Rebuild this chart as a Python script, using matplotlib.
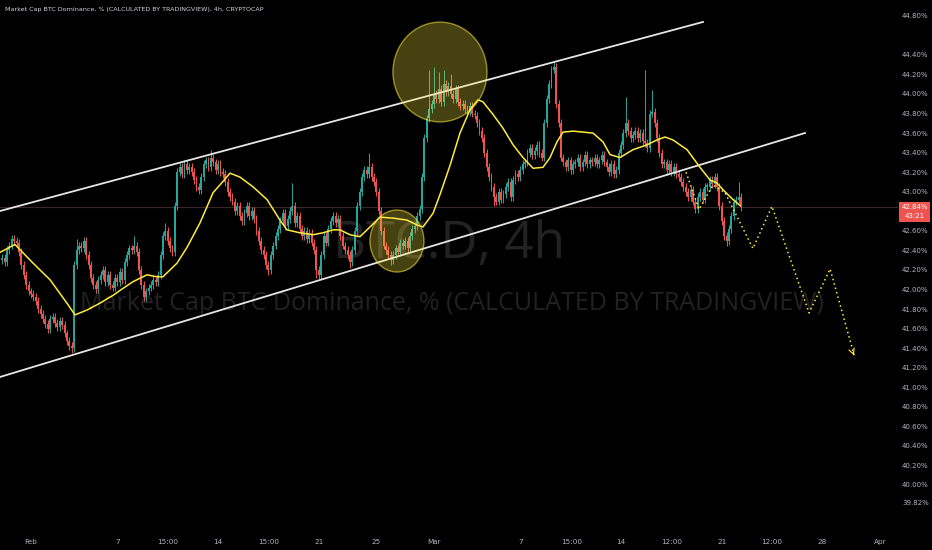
import numpy as np
import matplotlib.pyplot as plt
from matplotlib.patches import Ellipse, Rectangle

# 4h closes, one row per day, first row = Jan 30 (day -2 relative to Feb 1)
closes = [
    42.32, 42.28, 42.40, 42.45, 42.52, 42.50,
    42.48, 42.38, 42.25, 42.15, 42.05, 41.98,
    41.95, 41.92, 41.88, 41.80, 41.75, 41.70,
    41.65, 41.60, 41.70, 41.72, 41.66, 41.62,
    41.68, 41.64, 41.55, 41.47, 41.42, 41.40,
    42.25, 42.40, 42.45, 42.42, 42.50, 42.35,
    42.25, 42.12, 42.05, 42.00, 42.10, 42.15,
    42.20, 42.08, 42.15, 42.05, 42.02, 42.12,
    42.08, 42.18, 42.10, 42.28, 42.35, 42.42,
    42.40, 42.45, 42.38, 42.20, 42.05, 41.92,
    41.98, 42.02, 42.05, 42.10, 42.08, 42.15,
    42.35, 42.55, 42.60, 42.50, 42.42, 42.38,
    42.85, 43.20, 43.25, 43.18, 43.28, 43.22,
    43.25, 43.20, 43.12, 43.05, 43.02, 43.15,
    43.28, 43.32, 43.25, 43.35, 43.30, 43.22,
    43.28, 43.20, 43.18, 43.10, 43.00, 42.95,
    42.90, 42.80, 42.85, 42.75, 42.70, 42.78,
    42.85, 42.75, 42.80, 42.72, 42.60, 42.50,
    42.40, 42.35, 42.25, 42.20, 42.35, 42.45,
    42.55, 42.62, 42.70, 42.78, 42.65, 42.72,
    42.80, 42.85, 42.68, 42.75, 42.62, 42.55,
    42.60, 42.52, 42.58, 42.48, 42.40, 42.20,
    42.15, 42.35, 42.55, 42.48, 42.62, 42.70,
    42.75, 42.68, 42.72, 42.55, 42.45, 42.40,
    42.35, 42.28, 42.40, 42.60, 42.85, 43.00,
    43.15, 43.22, 43.18, 43.25, 43.15, 43.10,
    43.00, 42.80, 42.60, 42.45, 42.40, 42.35,
    42.30, 42.35, 42.42, 42.38, 42.48, 42.45,
    42.50, 42.42, 42.55, 42.62, 42.65, 42.75,
    42.82, 43.15, 43.55, 43.75, 43.85, 43.90,
    44.00, 43.95, 44.05, 43.92, 44.10, 44.02,
    44.08, 44.00, 43.95, 44.05, 43.92, 43.88,
    43.90, 43.85, 43.82, 43.88, 43.80, 43.78,
    43.70, 43.62, 43.55, 43.40, 43.25, 43.15,
    43.05, 42.95, 42.90, 43.00, 42.92, 42.98,
    43.05, 43.10, 42.95, 43.12, 43.18, 43.15,
    43.22, 43.28, 43.30, 43.40, 43.45, 43.38,
    43.42, 43.48, 43.40, 43.35, 43.70, 43.95,
    44.10, 44.25, 44.28, 43.90, 43.70, 43.35,
    43.30, 43.25, 43.32, 43.22, 43.28, 43.30,
    43.35, 43.25, 43.30, 43.38, 43.28, 43.32,
    43.30, 43.35, 43.28, 43.32, 43.38, 43.30,
    43.25, 43.20, 43.28, 43.18, 43.22, 43.40,
    43.48, 43.60, 43.70, 43.62, 43.55, 43.58,
    43.62, 43.55, 43.60, 43.52, 43.50, 43.45,
    43.80, 43.82, 43.70, 43.55, 43.40, 43.28,
    43.30, 43.22, 43.28, 43.20, 43.25, 43.18,
    43.15, 43.10, 43.05, 43.00, 42.95, 43.02,
    42.90, 42.82, 42.95, 43.00, 42.92, 43.05,
    43.05, 43.12, 43.08, 43.15, 43.05, 42.85,
    42.70, 42.55, 42.50, 42.62, 42.75, 42.90,
    42.92, 42.95, 42.84,
]
first_open = 42.30

# notable wicks (candle index -> value)
spike_highs = {31: 42.52, 55: 42.55, 68: 42.68, 87: 43.43, 121: 43.09, 153: 43.40,
               178: 44.25, 180: 44.28, 182: 44.22, 184: 44.25, 187: 44.20, 230: 44.34,
               260: 43.97, 268: 44.25, 271: 44.04, 307: 43.10}
spike_lows = {29: 41.35, 111: 42.15, 131: 42.12, 145: 42.22, 162: 42.25, 205: 42.85,
              289: 42.78, 302: 42.45}
min_wick = 0.04

# yellow moving average, (day, %)
ma_days = [-2.15, -1.25, -1.11, 0.14, 1.32, 2.50, 3.06, 3.89, 4.79, 5.70, 6.18, 7.09,
           8.06, 8.76, 9.17, 10.15, 10.84, 11.74, 12.65, 13.13, 13.83, 14.52, 15.43,
           16.40, 17.30, 17.79, 18.69, 19.60, 20.29, 20.99, 21.47, 22.17, 22.86, 23.56,
           24.25, 25.16, 26.13, 26.82, 27.24, 27.94, 28.42, 29.12, 29.81, 30.51, 31.06,
           31.41, 32.11, 32.80, 33.50, 34.19, 34.89, 35.58, 36.07, 36.55, 36.97, 37.67,
           39.06, 39.75, 40.24, 40.93, 41.83, 42.81, 43.50, 44.06, 44.61, 45.59, 46.49,
           47.19, 47.67, 48.09, 48.78, 49.27]
ma_vals = [42.38, 42.45, 42.46, 42.27, 42.10, 41.86, 41.74, 41.79, 41.86, 41.94, 41.99, 42.08,
           42.15, 42.13, 42.13, 42.27, 42.43, 42.68, 42.99, 43.07, 43.19, 43.15, 43.05,
           42.92, 42.71, 42.61, 42.58, 42.56, 42.58, 42.61, 42.61, 42.56, 42.54, 42.64,
           42.74, 42.73, 42.71, 42.66, 42.64, 42.78, 42.97, 43.27, 43.60, 43.84, 43.94,
           43.92, 43.79, 43.65, 43.48, 43.35, 43.24, 43.25, 43.35, 43.51, 43.61, 43.62,
           43.60, 43.51, 43.38, 43.35, 43.43, 43.48, 43.53, 43.56, 43.53, 43.43, 43.25,
           43.12, 43.09, 43.02, 42.92, 42.86]

# channel lines
upper_days, upper_vals = [-2.154, 46.70], [42.803, 44.737]
lower_days, lower_vals = [-2.154, 53.79], [41.105, 43.601]

# projected path (dotted)
proj_days = [45.52, 46.42, 47.39, 48.23, 50.17, 51.49, 54.07, 55.53, 57.26]
proj_vals = [43.20, 42.82, 43.07, 42.99, 42.42, 42.85, 41.76, 42.21, 41.30]

tick_days = [0, 6, 9.52, 13, 16.54, 20, 24, 28, 34, 37.6, 41, 44.5, 48, 51.5, 55, 59]
tick_labels = ['Feb', '7', '15:00', '14', '15:00', '21', '25', 'Mar', '7', '15:00', '14',
               '12:00', '21', '12:00', '28', 'Apr']
price_ticks = [44.80, 44.40, 44.20, 44.00, 43.80, 43.60, 43.40, 43.20, 43.00, 42.60, 42.40,
               42.20, 42.00, 41.80, 41.60, 41.40, 41.20, 41.00, 40.80, 40.60, 40.40, 40.20,
               40.00, 39.82]
last_price = 42.84

GREEN, RED, YEL = '#26a69a', '#ef5350', '#ffeb3b'
BG = '#000000'
WM = '#222222'

fig = plt.figure(figsize=(9.32, 5.5), dpi=100, facecolor=BG)
ax = fig.add_axes([0, 1 - 528 / 550, 898 / 932, 528 / 550])
ax.set_facecolor(BG)
ax.set_xlim(-2.154, 60.25)
ax.set_ylim(39.560, 44.9616)

# watermark
ax.text(29.05, 42.322, 'BTC.D, 4h', fontsize=37, family='Open Sans', color=WM,
        ha='center', va='baseline', zorder=0)
ax.text(29.22, 41.79, 'Market Cap BTC Dominance, % (CALCULATED BY TRADINGVIEW)',
        fontsize=18, family='Open Sans', color=WM, ha='center', va='baseline', zorder=0)

# candles
c = np.array(closes)
o = np.concatenate([[first_open], c[:-1]])
t = -2 + np.arange(len(c)) / 6.0
hi = np.maximum(o, c) + min_wick
lo = np.minimum(o, c) - min_wick
for k, v in spike_highs.items():
    hi[k] = v
for k, v in spike_lows.items():
    lo[k] = v
cols = np.where(c >= o, GREEN, RED)
ax.vlines(t, lo, hi, colors=cols, linewidth=0.7, zorder=2)
body = np.maximum(np.abs(c - o), 0.015)
ax.bar(t, body, bottom=np.minimum(o, c), width=0.13, color=cols, linewidth=0, zorder=3)

# last price line
ax.axhline(last_price, color='#3a2828', linewidth=0.8, zorder=1)

# channel
ax.plot(upper_days, upper_vals, color='#e6e6e6', linewidth=1.3, zorder=4)
ax.plot(lower_days, lower_vals, color='#e6e6e6', linewidth=1.3, zorder=4)

# MA
ax.plot(ma_days, ma_vals, color=YEL, linewidth=1.1, zorder=5)

# highlight circles
for cx, cy, w, h in [(28.42, 44.225, 6.53, 1.02), (25.43, 42.496, 3.75, 0.634)]:
    ax.add_patch(Ellipse((cx, cy), w, h, facecolor=(1, 0.92, 0.23, 0.28),
                         edgecolor=(1, 0.92, 0.23, 0.55), linewidth=1.0, zorder=6))

# projection
ax.plot(proj_days, proj_vals, color=YEL, linewidth=1.1, linestyle=(0, (1, 2)), zorder=5)
ax.annotate('', xy=(proj_days[-1], proj_vals[-1]), xytext=(57.05, 41.38),
            arrowprops=dict(arrowstyle='->', color=YEL, lw=0.8), zorder=5)

for s in ax.spines.values():
    s.set_visible(False)
ax.set_xticks(tick_days)
ax.set_xticklabels(tick_labels)
ax.tick_params(axis='x', length=0, pad=8, labelsize=5.2, labelcolor='#b2b5be')
ax.yaxis.tick_right()
ax.set_yticks(price_ticks)
ax.set_yticklabels(['%.2f%%' % v for v in price_ticks])
ax.tick_params(axis='y', length=0, pad=3, labelsize=5, labelcolor='#b2b5be')

# title
fig.text(5 / 932, 1 - 10 / 550,
         'Market Cap BTC Dominance, % (CALCULATED BY TRADINGVIEW), 4h, CRYPTOCAP',
         fontsize=4.6, color='#d1d4dc', va='center', ha='left')

# price label box
fig.patches.append(Rectangle((899 / 932, 1 - 222 / 550), 31 / 932, 20 / 550,
                             transform=fig.transFigure, facecolor=RED, edgecolor='none'))
fig.text(914.5 / 932, 1 - 207 / 550, '%.2f%%' % last_price, fontsize=5, color='white',
         ha='center', va='center')
fig.text(914.5 / 932, 1 - 216 / 550, '43:21', fontsize=5, color='white',
         ha='center', va='center')

fig.savefig('out.png', dpi=100, facecolor=BG)
